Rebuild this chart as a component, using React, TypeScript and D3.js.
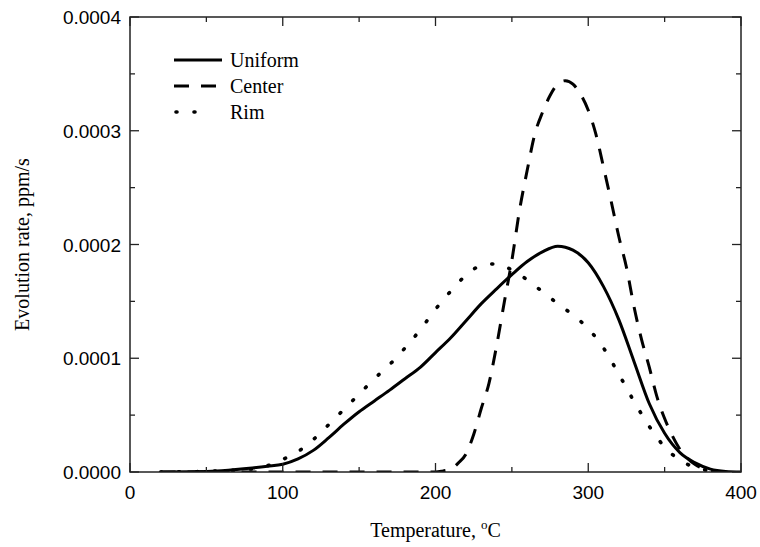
import React from "react";
import * as d3 from "d3";

// ---- data (evolution rate, ppm/s) ----
const uniformT = [20, 40, 60, 80, 90, 100, 110, 120, 130, 140, 150, 160, 170, 180, 190, 200, 210, 220, 230, 240, 250, 260, 270, 280, 290, 300, 310, 320, 330, 340, 350, 360, 370, 380, 390, 400];
const uniformV = [0, 0.0000002, 0.0000012, 0.0000035, 0.000005, 0.0000068, 0.0000115, 0.000019, 0.00003, 0.000042, 0.000053, 0.0000625, 0.000072, 0.000082, 0.000092, 0.000105, 0.000118, 0.000133, 0.000148, 0.000161, 0.0001735, 0.000185, 0.0001935, 0.0001985, 0.000195, 0.000184, 0.000163, 0.000134, 0.000097, 0.00006, 0.000034, 0.000017, 0.000008, 0.0000025, 0.0000005, 0];

const centerT = [20, 100, 200, 205, 210, 215, 220, 225, 230, 235, 240, 245, 250, 255, 260, 265, 270, 275, 280, 285, 290, 295, 300, 305, 310, 315, 320, 325, 330, 335, 340, 345, 350, 355, 360, 365, 370, 375, 380, 390];
const centerV = [0, 0, 0, 0.000001, 0.0000025, 0.000008, 0.000016, 0.000033, 0.000056, 0.000078, 0.000111, 0.000149, 0.000186, 0.00023, 0.000265, 0.000297, 0.000316, 0.000331, 0.000341, 0.000344, 0.000341, 0.000332, 0.000318, 0.000297, 0.000268, 0.000238, 0.000207, 0.00018, 0.000145, 0.000116, 0.000092, 0.000066, 0.000047, 0.000032, 0.00002, 0.000012, 0.0000065, 0.000003, 0.0000012, 0];

const rimT = [20, 40, 60, 80, 90, 100, 110, 120, 130, 140, 150, 160, 170, 180, 190, 200, 210, 220, 230, 240, 250, 260, 270, 280, 290, 300, 310, 320, 330, 340, 350, 360, 370, 380, 390];
const rimV = [0, 0.0000002, 0.000001, 0.0000028, 0.0000055, 0.000011, 0.000018, 0.0000285, 0.0000415, 0.000055, 0.0000685, 0.000082, 0.0000945, 0.000109, 0.000125, 0.000143, 0.000159, 0.000173, 0.0001815, 0.000183, 0.0001775, 0.000169, 0.0001585, 0.000148, 0.000138, 0.000126, 0.000109, 0.000086, 0.000062, 0.00004, 0.000022, 0.0000105, 0.000004, 0.000001, 0];

const seriesNames = ["Uniform", "Center", "Rim"];
const xMajorTicks = [0, 100, 200, 300, 400];
const xMinorTicks = [50, 150, 250, 350];
const yMajorTicks = [0, 0.0001, 0.0002, 0.0003, 0.0004];
const yMinorTicks = [0.00005, 0.00015, 0.00025, 0.00035];
const xTitle = "Temperature, ";
const yTitle = "Evolution rate, ppm/s";

const W = 760;
const H = 547;
const L = 130, R = 741, T = 17, B = 472;

const styles = [
  { dash: undefined as string | undefined, cap: "butt", width: 3 },
  { dash: "15,12", cap: "butt", width: 3 },
  { dash: "1,17", cap: "round", width: 3.6 },
];

export default function App() {
  const x = d3.scaleLinear().domain([0, 400]).range([L, R]);
  const y = d3.scaleLinear().domain([0, 0.0004]).range([B, T]);
  const line = d3
    .line<[number, number]>()
    .x((d) => x(d[0]))
    .y((d) => y(d[1]))
    .curve(d3.curveMonotoneX);

  const series = [
    uniformT.map((t, i) => [t, uniformV[i]] as [number, number]),
    centerT.map((t, i) => [t, centerV[i]] as [number, number]),
    rimT.map((t, i) => [t, rimV[i]] as [number, number]),
  ];

  const fmt = d3.format(".4f");
  const axisColor = "#222";
  const major = 9, minor = 5;
  const sans = "'Liberation Sans', Arial, sans-serif";
  const serif = "'Liberation Serif', 'Times New Roman', serif";

  const legendY = [60, 86, 112];

  return (
    <svg width={W} height={H} style={{ position: "absolute", left: 0, top: 0, background: "#fff" }}>
      <rect x={0} y={0} width={W} height={H} fill="#fff" />
      <defs>
        <clipPath id="clip">
          <rect x={L} y={T - 5} width={R - L} height={B - T + 5} />
        </clipPath>
      </defs>
      {/* curves */}
      <g clipPath="url(#clip)">
        {series.map((s, i) => (
          <path
            key={i}
            d={line(s) || ""}
            fill="none"
            stroke="#000"
            strokeWidth={styles[i].width}
            strokeDasharray={styles[i].dash}
            strokeLinecap={styles[i].cap as any}
            strokeLinejoin="round"
          />
        ))}
      </g>
      {/* frame */}
      <rect x={L} y={T} width={R - L} height={B - T} fill="none" stroke={axisColor} strokeWidth={1.5} />
      {/* x ticks */}
      {xMajorTicks.map((t) => (
        <g key={"xM" + t}>
          <line x1={x(t)} x2={x(t)} y1={B} y2={B - major} stroke={axisColor} strokeWidth={1.3} />
          <line x1={x(t)} x2={x(t)} y1={T} y2={T + major} stroke={axisColor} strokeWidth={1.3} />
          <text x={x(t)} y={499} textAnchor="middle" fontFamily={sans} fontSize={19} fill="#000">
            {t}
          </text>
        </g>
      ))}
      {xMinorTicks.map((t) => (
        <g key={"xm" + t}>
          <line x1={x(t)} x2={x(t)} y1={B} y2={B - minor} stroke={axisColor} strokeWidth={1.3} />
          <line x1={x(t)} x2={x(t)} y1={T} y2={T + minor} stroke={axisColor} strokeWidth={1.3} />
        </g>
      ))}
      {/* y ticks */}
      {yMajorTicks.map((v) => (
        <g key={"yM" + v}>
          <line x1={L} x2={L + major} y1={y(v)} y2={y(v)} stroke={axisColor} strokeWidth={1.3} />
          <line x1={R} x2={R - major} y1={y(v)} y2={y(v)} stroke={axisColor} strokeWidth={1.3} />
          <text x={121} y={y(v) + 7} textAnchor="end" fontFamily={sans} fontSize={19} fill="#000">
            {fmt(v)}
          </text>
        </g>
      ))}
      {yMinorTicks.map((v) => (
        <g key={"ym" + v}>
          <line x1={L} x2={L + minor} y1={y(v)} y2={y(v)} stroke={axisColor} strokeWidth={1.3} />
          <line x1={R} x2={R - minor} y1={y(v)} y2={y(v)} stroke={axisColor} strokeWidth={1.3} />
        </g>
      ))}
      {/* axis titles */}
      <text x={(L + R) / 2} y={537} textAnchor="middle" fontFamily={serif} fontSize={20} fill="#000">
        {xTitle}
        <tspan fontSize={13} dy={-8}>o</tspan>
        <tspan dy={8}>C</tspan>
      </text>
      <text
        transform={`translate(29, ${(T + B) / 2}) rotate(-90)`}
        textAnchor="middle"
        fontFamily={serif}
        fontSize={20}
        fill="#000"
      >
        {yTitle}
      </text>
      {/* legend */}
      {seriesNames.map((n, i) => (
        <g key={n}>
          <line
            x1={i === 2 ? 176 : 174}
            x2={i === 2 ? 212 : 222}
            y1={legendY[i]}
            y2={legendY[i]}
            stroke="#000"
            strokeWidth={styles[i].width}
            strokeDasharray={styles[i].dash}
            strokeLinecap={styles[i].cap as any}
          />
          <text x={230} y={legendY[i] + 7} fontFamily={serif} fontSize={20} fill="#000">
            {n}
          </text>
        </g>
      ))}
    </svg>
  );
}
